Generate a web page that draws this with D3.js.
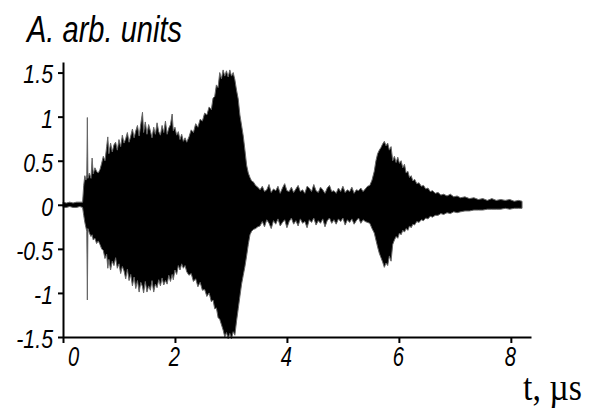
<!DOCTYPE html>
<meta charset="utf-8">
<style>
body { margin: 0; background: #fff; }
.axis path, .axis line { stroke: #000; stroke-width: 2px; }
.axis text { font-family: "Liberation Sans", Arial, sans-serif; font-style: italic; fill: #000; }
.title { font-family: "Liberation Sans", Arial, sans-serif; font-style: italic; font-size: 37px; }
</style>
<svg width="590" height="410"></svg>
<script src="https://cdn.jsdelivr.net/npm/d3@7/dist/d3.min.js"></script>
<script>

// envelope of the signal (t in us, amplitude in arb. units)
var time = [0, 0.06, 0.12, 0.18, 0.24, 0.30, 0.35,
  0.37, 0.39, 0.41, 0.425, 0.435, 0.445, 0.47, 0.50, 0.52, 0.54, 0.57, 0.60, 0.63, 0.66, 0.69,
  0.72, 0.75, 0.78, 0.80, 0.82, 0.85, 0.88, 0.91, 0.94, 0.97, 1.00, 1.03, 1.06, 1.09, 1.12, 1.15,
  1.18, 1.21, 1.24, 1.27, 1.30, 1.33, 1.36, 1.39, 1.42, 1.44, 1.47, 1.50, 1.53, 1.56, 1.59, 1.62,
  1.65, 1.68, 1.71, 1.74, 1.77, 1.80, 1.83, 1.86, 1.89, 1.92, 1.95, 1.97, 2.00, 2.03, 2.06, 2.09,
  2.12, 2.15, 2.18, 2.21, 2.25, 2.29, 2.33, 2.37, 2.41, 2.45, 2.49, 2.53, 2.57, 2.61, 2.65, 2.68,
  2.71, 2.74, 2.77, 2.80, 2.83, 2.86, 2.89, 2.92, 2.95, 2.98, 3.01, 3.04, 3.07, 3.10, 3.13, 3.16,
  3.19, 3.22, 3.25, 3.28, 3.31, 3.34, 3.37, 3.40, 3.44, 3.48, 3.52,
  3.56, 3.60, 3.64, 3.68, 3.72, 3.76, 3.80, 3.84, 3.88, 3.92, 3.96, 4.00, 4.04, 4.08, 4.12, 4.16,
  4.20, 4.24, 4.28, 4.32, 4.36, 4.40, 4.44, 4.48, 4.52, 4.56, 4.60, 4.64, 4.68, 4.72, 4.76, 4.80,
  4.84, 4.88, 4.92, 4.96, 5.00, 5.04, 5.08, 5.12, 5.16, 5.20, 5.24, 5.28, 5.32, 5.36, 5.40, 5.44, 5.48,
  5.52, 5.56, 5.59, 5.62, 5.65, 5.68, 5.71, 5.74, 5.77, 5.80, 5.83, 5.86, 5.89, 5.92, 5.95, 5.98,
  6.01, 6.04, 6.07, 6.10, 6.13, 6.16, 6.19, 6.22, 6.25, 6.28, 6.32, 6.36, 6.40, 6.44, 6.48, 6.52,
  6.56, 6.60, 6.65, 6.70, 6.75, 6.80, 6.86, 6.92, 6.98, 7.04, 7.10, 7.18, 7.26, 7.34, 7.42, 7.50,
  7.58, 7.66, 7.74, 7.82, 7.90, 7.98, 8.06, 8.14, 8.20];

var upper = [0.03, 0.02, 0.03, 0.02, 0.03, 0.03, 0.03,
  0.22, 0.33, 0.28, 0.34, 0.99, 0.30, 0.36, 0.30, 0.53, 0.35, 0.42, 0.38, 0.36, 0.40, 0.47,
  0.55, 0.50, 0.66, 0.77, 0.58, 0.70, 0.60, 0.68, 0.71, 0.62, 0.74, 0.66, 0.79, 0.70, 0.75, 0.82,
  0.71, 0.78, 0.86, 0.76, 0.84, 0.90, 0.78, 0.92, 1.05, 0.82, 0.94, 0.80, 0.91, 0.84, 0.76, 0.88,
  0.80, 0.93, 0.83, 0.79, 0.90, 0.82, 0.95, 0.80, 0.87, 0.91, 1.03, 0.84, 0.88, 0.79, 0.83, 0.74,
  0.80, 0.72, 0.76, 0.71, 0.77, 0.85, 0.82, 0.92, 0.88, 0.97, 0.95, 1.04, 1.02, 1.11, 1.08, 1.21,
  1.23, 1.36, 1.33, 1.50, 1.43, 1.53, 1.46, 1.52, 1.45, 1.53, 1.46, 1.50, 1.42, 1.30, 1.20, 1.02,
  0.90, 0.78, 0.62, 0.45, 0.36, 0.31, 0.27, 0.26, 0.22, 0.20, 0.17,
  0.21, 0.15, 0.17, 0.23, 0.14, 0.18, 0.16, 0.21, 0.13, 0.19, 0.24, 0.16, 0.15, 0.20, 0.14, 0.18,
  0.22, 0.15, 0.17, 0.13, 0.21, 0.19, 0.15, 0.23, 0.16, 0.14, 0.20, 0.17, 0.13, 0.19, 0.22, 0.15,
  0.16, 0.13, 0.19, 0.15, 0.21, 0.14, 0.17, 0.15, 0.20, 0.13, 0.17, 0.16, 0.19, 0.15, 0.18, 0.21, 0.22,
  0.28, 0.38, 0.50, 0.58, 0.62, 0.65, 0.69, 0.72, 0.67, 0.70, 0.62, 0.66, 0.50, 0.55, 0.48, 0.54,
  0.47, 0.50, 0.42, 0.46, 0.36, 0.38, 0.31, 0.33, 0.27, 0.29, 0.24, 0.25, 0.21, 0.22, 0.18, 0.19,
  0.15, 0.16, 0.13, 0.14, 0.11, 0.12, 0.10, 0.12, 0.09, 0.10, 0.08, 0.09, 0.07, 0.08, 0.06, 0.07,
  0.05, 0.07, 0.05, 0.06, 0.05, 0.06, 0.04, 0.05, 0.04];

var lower = [-0.03, -0.03, -0.02, -0.03, -0.03, -0.02, -0.03,
  -0.12, -0.20, -0.26, -0.30, -1.08, -0.27, -0.32, -0.36, -0.34, -0.40, -0.38, -0.44, -0.41, -0.45, -0.50,
  -0.52, -0.61, -0.56, -0.72, -0.62, -0.74, -0.64, -0.69, -0.60, -0.72, -0.67, -0.78, -0.70, -0.75, -0.84, -0.73,
  -0.86, -0.79, -0.92, -0.82, -0.95, -0.86, -0.99, -0.88, -0.93, -1.00, -0.87, -0.99, -0.92, -0.97, -0.86, -0.99,
  -0.90, -0.94, -0.85, -0.92, -0.83, -0.91, -0.86, -0.90, -0.80, -0.87, -0.79, -0.85, -0.74, -0.79, -0.69, -0.74,
  -0.67, -0.72, -0.69, -0.76, -0.80, -0.78, -0.87, -0.84, -0.93, -0.88, -0.97, -0.96, -1.04, -1.00, -1.10, -1.08,
  -1.18, -1.17, -1.28, -1.30, -1.36, -1.42, -1.50, -1.45, -1.52, -1.46, -1.52, -1.44, -1.48, -1.32, -1.18, -1.04,
  -0.90, -0.80, -0.70, -0.58, -0.45, -0.34, -0.30, -0.28, -0.27, -0.25, -0.24,
  -0.19, -0.25, -0.17, -0.21, -0.27, -0.18, -0.22, -0.16, -0.24, -0.20, -0.17, -0.26, -0.19, -0.15, -0.22, -0.18,
  -0.24, -0.16, -0.21, -0.19, -0.26, -0.17, -0.20, -0.15, -0.23, -0.18, -0.21, -0.16, -0.25, -0.18, -0.15, -0.21,
  -0.17, -0.22, -0.16, -0.19, -0.15, -0.23, -0.17, -0.20, -0.16, -0.22, -0.18, -0.15, -0.21, -0.17, -0.19, -0.20, -0.21,
  -0.27, -0.32, -0.40, -0.48, -0.55, -0.60, -0.65, -0.71, -0.66, -0.69, -0.58, -0.64, -0.45, -0.40, -0.36, -0.38,
  -0.32, -0.34, -0.29, -0.31, -0.27, -0.29, -0.24, -0.26, -0.22, -0.23, -0.19, -0.20, -0.17, -0.18, -0.15, -0.16,
  -0.13, -0.14, -0.12, -0.12, -0.10, -0.11, -0.09, -0.10, -0.08, -0.09, -0.08, -0.07, -0.07, -0.06, -0.06, -0.06,
  -0.05, -0.05, -0.05, -0.05, -0.04, -0.05, -0.04, -0.04, -0.04];

var xTicks = [0, 2, 4, 6, 8];
var xTickLabels = ["0", "2", "4", "6", "8"];
var yTicks = [1.5, 1, 0.5, 0, -0.5, -1, -1.5];
var yTickLabels = ["1.5", "1", "0.5", "0", "-0.5", "-1", "-1.5"];

var svg = d3.select("svg");

var x = d3.scaleLinear().domain([0, 8.36]).range([63, 531]);
var y = d3.scaleLinear().domain([-1.5, 1.62]).range([337, 62]);

var data = time.map(function(t, i) { return {t: t, hi: upper[i], lo: lower[i]}; });

var area = d3.area()
    .x(function(d) { return x(d.t); })
    .y0(function(d) { return y(d.lo); })
    .y1(function(d) { return y(d.hi); });

svg.append("path")
    .datum(data)
    .attr("d", area)
    .attr("fill", "#000")
    .attr("stroke", "#666")
    .attr("stroke-width", 1);

// axes
var yAxis = svg.append("g")
    .attr("class", "axis")
    .attr("transform", "translate(63,0)")
    .call(d3.axisLeft(y).tickValues(yTicks).tickSize(5).tickSizeOuter(0)
      .tickFormat(function(d, i) { return yTickLabels[i]; }));

yAxis.selectAll("text")
    .attr("x", null)
    .attr("dy", "0.4em")
    .style("font-size", "26px")
    .attr("transform", "translate(-10,0) scale(0.82,1)");

var xAxis = svg.append("g")
    .attr("class", "axis")
    .attr("transform", "translate(0,337)")
    .call(d3.axisBottom(x).tickValues(xTicks).tickSize(6).tickSizeOuter(0)
      .tickFormat(function(d, i) { return xTickLabels[i]; }));

xAxis.selectAll("text")
    .attr("y", null)
    .attr("dy", "0.71em")
    .style("font-size", "28px")
    .attr("transform", function(d) { return "translate(" + (d === 0 ? 10 : -1) + ",9) scale(0.72,1)"; });

svg.append("text")
    .attr("class", "title")
    .attr("x", 27)
    .attr("y", 42)
    .attr("textLength", 155)
    .attr("lengthAdjust", "spacingAndGlyphs")
    .text("A. arb. units");

svg.append("text")
    .attr("x", 523)
    .attr("y", 400)
    .attr("textLength", 59)
    .attr("lengthAdjust", "spacingAndGlyphs")
    .style("font-family", "'Liberation Serif', 'DejaVu Serif', 'Times New Roman', serif")
    .style("font-size", "38px")
    .text("t, µs");

</script>
